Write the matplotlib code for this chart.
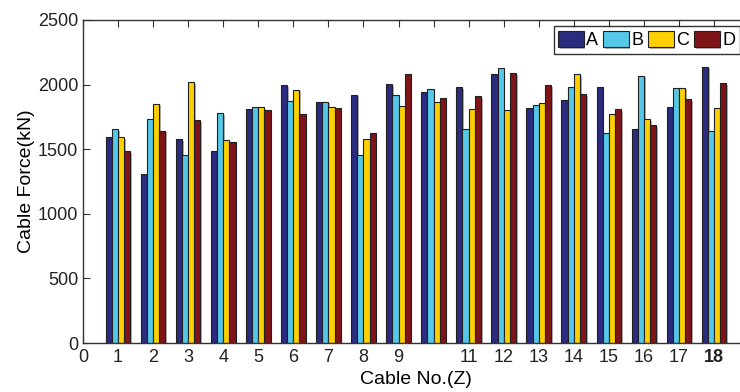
import matplotlib
matplotlib.use('Agg')
import matplotlib.pyplot as plt
import matplotlib.patheffects as pe
import numpy as np

# cable numbers and measured forces (kN)
cables = list(range(1, 19))
force_a = [1594, 1308, 1579, 1486, 1811, 1994, 1868, 1922, 2005,
           1943, 1981, 2082, 1816, 1881, 1981, 1659, 1829, 2139]
force_b = [1656, 1734, 1453, 1780, 1829, 1873, 1868, 1453, 1922,
           1966, 1654, 2126, 1845, 1978, 1623, 2069, 1971, 1641]
force_c = [1594, 1852, 2020, 1571, 1824, 1960, 1824, 1579, 1832,
           1868, 1811, 1803, 1855, 2080, 1775, 1731, 1976, 1816]
force_d = [1486, 1643, 1726, 1553, 1803, 1775, 1819, 1625, 2084,
           1896, 1909, 2090, 1994, 1927, 1811, 1684, 1889, 2012]
series = ['A', 'B', 'C', 'D']
tick_labels = ['0', '1', '2', '3', '4', '5', '6', '7', '8', '9', '',
               '11', '12', '13', '14', '15', '16', '17', '18']

colors = ['#2b2b80', '#55c8ea', '#ffd000', '#7f1418']

plt.rcParams['font.family'] = ['Liberation Sans', 'DejaVu Sans']

fig = plt.figure(figsize=(7.4, 3.92), dpi=100)
ax = fig.add_axes([0.1122, 0.125, 0.9, 0.824])

x = np.array(cables)
w = 0.175
shadow = [pe.SimplePatchShadow(offset=(1.2, -1.2), shadow_rgbFace='gray', alpha=0.6),
          pe.Normal()]
for i, (vals, name) in enumerate(zip([force_a, force_b, force_c, force_d], series)):
    bars = ax.bar(x + (i - 1.5) * w, vals, w, color=colors[i], edgecolor='#202020',
                  linewidth=0.8, label=name)
    for b in bars:
        b.set_path_effects(shadow)

ax.set_xlim(0, 19)
ax.set_ylim(0, 2500)
ax.set_xticks(range(0, 19))
ax.set_xticklabels(tick_labels)
ax.get_xticklabels()[18].set_fontweight('bold')
ax.set_yticks(range(0, 2501, 500))
ax.tick_params(direction='in', length=5, labelsize=13, top=True, color='#333333',
               colors='#222222')
ax.tick_params(axis='x', pad=4)

ax.set_xlabel('Cable No.(Z)', fontsize=14, labelpad=4)
ax.set_ylabel('Cable Force(kN)', fontsize=14, labelpad=2)

for s in ax.spines.values():
    s.set_linewidth(1.0)
    s.set_color('#333333')

# legend runs past the right edge, as in the original figure
leg = ax.legend(loc='upper left', bbox_to_anchor=(0.707, 0.98), ncol=4, fontsize=13,
                frameon=True, fancybox=False, edgecolor='black', handlelength=1.4,
                handleheight=1.0, handletextpad=0.15, columnspacing=0.28,
                borderpad=0.25, borderaxespad=0)
leg.get_frame().set_linewidth(1.0)

fig.savefig('out.png', dpi=100)
